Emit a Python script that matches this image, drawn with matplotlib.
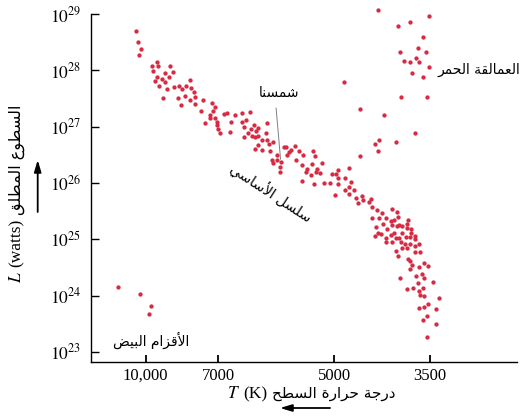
import numpy as np
import matplotlib
matplotlib.use('Agg')
import matplotlib.pyplot as plt
from matplotlib.ticker import NullLocator
from matplotlib.transforms import IdentityTransform

plt.rcParams['mathtext.fontset'] = 'stix'

# main sequence: surface temperature (K) and log10 of luminosity (W)
ms_temp = [10410, 10310, 10180, 10280, 9540, 9750, 9480, 9000, 9710, 9190,
           8870, 9520, 9050, 9340, 9630, 9200, 9460, 8850, 8620, 9120,
           8320, 8190, 8510, 8120, 8010, 9290, 8650, 8370, 7980, 7630,
           8540, 7950, 8150, 7280, 7120, 7710, 7340, 7220, 6910, 7540,
           7120, 7360, 7040, 7070,
           6850, 6720, 6780, 6590, 6460, 6590, 6530, 6800, 7030, 6970,
           6560, 6390, 6440, 6320, 6340, 6160, 6170, 6560, 6480, 6420,
           6370, 6310, 6250, 6160, 6130, 6050, 6360, 6310, 6250, 6100,
           5980, 5990, 6070, 6060, 5930,
           5870, 5830, 5670, 5750, 5770, 5610, 5370, 5810, 5540, 5330,
           5660, 5920, 5210, 5550, 5380, 5460, 5290, 5490, 5320, 5240,
           5400, 5930, 5040, 4970, 4940, 5560, 5340, 5180,
           4300, 4360, 4030, 4310, 4590, 4770,
           4930, 4830, 5070, 4930, 4730, 4770, 4830, 4690, 4980, 4760,
           4650, 4560, 4540, 4420, 4620, 4460, 4400, 4330, 4250, 4100,
           4010, 4400, 4300, 4180, 4000, 4110, 4060, 3850, 4240, 4100,
           4020, 3990, 3930, 3860, 4350, 4170, 3860, 3800, 3940, 3800,
           4310, 4260, 4110, 4060, 4360, 4180, 4030, 3980, 3880, 3810,
           3730, 3730, 4180, 4100, 3960, 3890, 3820, 3670, 3740, 3930,
           3860, 4030, 3730, 3660, 4000, 3840, 3820, 3780, 3810, 3600,
           3530, 3670, 3630, 3720, 3590, 3970, 3460, 3690, 3760, 3610,
           3860, 3670, 3660, 3590, 3360, 3530, 3590, 3680,
           3400, 3540, 3610, 3410, 3540]
ms_loglum = [28.69, 28.51, 28.38, 28.27, 28.15, 28.07, 28.08, 28.07, 27.99, 27.95,
             27.97, 27.89, 27.88, 27.85, 27.81, 27.79, 27.73, 27.71, 27.72, 27.67,
             27.72, 27.83, 27.66, 27.68, 27.62, 27.50, 27.50, 27.54, 27.53, 27.48,
             27.39, 27.40, 27.47, 27.42, 27.34, 27.27, 27.21, 27.27, 27.23, 27.07,
             27.16, 27.15, 27.09, 27.03,
             27.24, 27.20, 27.09, 27.25, 27.26, 27.08, 27.12, 26.91, 26.95, 26.88,
             26.99, 27.03, 26.95, 26.97, 26.93, 27.06, 26.89, 26.81, 26.89, 26.83,
             26.81, 26.83, 26.76, 26.76, 26.70, 26.72, 26.60, 26.68, 26.59, 26.57,
             26.50, 26.41, 26.41, 26.35, 26.28,
             26.64, 26.64, 26.66, 26.59, 26.55, 26.57, 26.57, 26.49, 26.49, 26.47,
             26.41, 26.37, 26.36, 26.31, 26.33, 26.25, 26.25, 26.19, 26.19, 26.18,
             26.14, 26.20, 26.15, 26.15, 26.23, 26.04, 25.98, 26.00,
             26.76, 26.69, 26.72, 26.57, 26.47, 26.27,
             26.08, 26.09, 26.00, 25.98, 26.01, 25.93, 25.88, 25.88, 25.79, 25.80,
             25.73, 25.77, 25.70, 25.72, 25.64, 25.66, 25.57, 25.52, 25.46, 25.54,
             25.49, 25.37, 25.37, 25.38, 25.40, 25.33, 25.34, 25.35, 25.27, 25.25,
             25.24, 25.26, 25.23, 25.27, 25.21, 25.19, 25.20, 25.19, 25.11, 25.11,
             25.11, 25.09, 25.08, 25.11, 25.05, 25.02, 25.03, 25.02, 25.04, 25.04,
             25.06, 25.00, 24.95, 24.95, 24.95, 24.92, 24.92, 24.91, 24.88, 24.85,
             24.84, 24.80, 24.77, 24.78, 24.71, 24.65, 24.62, 24.55, 24.48, 24.57,
             24.52, 24.50, 24.39, 24.35, 24.31, 24.31, 24.24, 24.23, 24.14, 24.14,
             24.11, 24.08, 24.01, 24.00, 23.96, 23.85, 23.80, 23.78,
             23.76, 23.64, 23.56, 23.49, 23.27]

# red giants
giant_temp = [4320, 3510, 4000, 3810, 3610, 3690, 3970, 3560, 3720, 3900,
              3810, 3680, 3520, 3780, 3610, 4840, 3950, 3550, 4600, 4220, 3730]
giant_loglum = [29.08, 28.97, 28.78, 28.85, 28.59, 28.40, 28.33, 28.32, 28.21, 28.16,
                28.14, 28.14, 28.06, 27.95, 27.88, 27.79, 27.53, 27.53, 27.31, 27.21, 26.89]

# white dwarfs
dwarf_temp = [11160, 10250, 9780, 9850]
dwarf_loglum = [24.15, 24.03, 23.82, 23.67]

sun_temp, sun_loglum = 5920, 26.37

x_ticks = [10000, 7000, 5000, 3500]
x_ticklabels = ['10,000', '7000', '5000', '3500']
y_exponents = [23, 24, 25, 26, 27, 28, 29]

RED = '#d62b43'
SERIF = 'Liberation Serif'
ARABIC = 'DejaVu Sans'

# --- minimal Arabic shaping (contextual forms + right-to-left order) ---
FORMS = {  # isolated, final, initial, medial
    'ا': ('\uFE8D', '\uFE8E', None, None),
    'أ': ('\uFE83', '\uFE84', None, None),
    'ب': ('\uFE8F', '\uFE90', '\uFE91', '\uFE92'),
    'ة': ('\uFE93', '\uFE94', None, None),
    'ج': ('\uFE9D', '\uFE9E', '\uFE9F', '\uFEA0'),
    'ح': ('\uFEA1', '\uFEA2', '\uFEA3', '\uFEA4'),
    'د': ('\uFEA9', '\uFEAA', None, None),
    'ر': ('\uFEAD', '\uFEAE', None, None),
    'ز': ('\uFEAF', '\uFEB0', None, None),
    'س': ('\uFEB1', '\uFEB2', '\uFEB3', '\uFEB4'),
    'ش': ('\uFEB5', '\uFEB6', '\uFEB7', '\uFEB8'),
    'ض': ('\uFEBD', '\uFEBE', '\uFEBF', '\uFEC0'),
    'ط': ('\uFEC1', '\uFEC2', '\uFEC3', '\uFEC4'),
    'ع': ('\uFEC9', '\uFECA', '\uFECB', '\uFECC'),
    'ق': ('\uFED5', '\uFED6', '\uFED7', '\uFED8'),
    'ل': ('\uFEDD', '\uFEDE', '\uFEDF', '\uFEE0'),
    'م': ('\uFEE1', '\uFEE2', '\uFEE3', '\uFEE4'),
    'ن': ('\uFEE5', '\uFEE6', '\uFEE7', '\uFEE8'),
    'و': ('\uFEED', '\uFEEE', None, None),
    'ي': ('\uFEF1', '\uFEF2', '\uFEF3', '\uFEF4'),
}
LAM_ALEF = {'ا': ('\uFEFB', '\uFEFC'), 'أ': ('\uFEF7', '\uFEF8')}


def shape(text):
    out = []
    i = 0
    prev_joins = False
    while i < len(text):
        c = text[i]
        if c not in FORMS:
            out.append(c)
            prev_joins = False
            i += 1
            continue
        if c == 'ل' and i + 1 < len(text) and text[i + 1] in LAM_ALEF:
            iso, fin = LAM_ALEF[text[i + 1]]
            out.append(fin if prev_joins else iso)
            prev_joins = False
            i += 2
            continue
        iso, fin, ini, med = FORMS[c]
        nxt = text[i + 1] if i + 1 < len(text) else ''
        joins_next = ini is not None and nxt in FORMS
        if prev_joins and joins_next:
            out.append(med)
        elif prev_joins:
            out.append(fin)
        elif joins_next:
            out.append(ini)
        else:
            out.append(iso)
        prev_joins = joins_next
        i += 1
    return ''.join(reversed(out))


# temperature ticks are unevenly spaced in the original, so use a piecewise scale
scale_temp = [2000, 3500, 5000, 7000, 10000, 14000]
scale_pos = [-526, -430, -334, -218.3, -145.7, -49.3]


def fwd(t):
    return np.interp(t, scale_temp, scale_pos)


def inv(u):
    return np.interp(u, scale_pos, scale_temp)


fig = plt.figure(figsize=(5.21, 4.19), dpi=100)
ax = fig.add_axes([91 / 521, 57 / 419, 426 / 521, 357 / 419])
ax.set_xscale('function', functions=(fwd, inv))
ax.set_yscale('log')
ax.set_xlim(12270, 2141)
ax.set_ylim(10 ** 22.82, 10 ** 29.16)

for temp, loglum in [(ms_temp, ms_loglum), (giant_temp, giant_loglum), (dwarf_temp, dwarf_loglum)]:
    ax.plot(temp, 10 ** np.array(loglum), 'o', color=RED, ms=3.1, mew=0, clip_on=False)

ax.spines['top'].set_visible(False)
ax.spines['right'].set_visible(False)
ax.spines['left'].set_bounds(10 ** 22.82, 10 ** 29)
for sp in ['left', 'bottom']:
    ax.spines[sp].set_linewidth(1.0)

ax.set_xticks(x_ticks, labels=x_ticklabels)
ax.set_yticks([10.0 ** e for e in y_exponents], labels=[f'$10^{{{e}}}$' for e in y_exponents])
ax.xaxis.set_minor_locator(NullLocator())
ax.yaxis.set_minor_locator(NullLocator())
ax.tick_params(axis='x', direction='in', length=5, width=1.3, pad=4, labelsize=12)
ax.tick_params(axis='y', direction='in', length=5.8, width=1.0, pad=7, labelsize=12.5)
for lab in ax.get_xticklabels():
    lab.set_fontfamily(SERIF)

# sun
ax.annotate(shape('شمسنا'), xy=(sun_temp, 10 ** sun_loglum), xytext=(-1, 50),
            textcoords='offset points', ha='center', va='center',
            fontfamily=ARABIC, fontsize=10,
            arrowprops=dict(arrowstyle='-', color='#808080', lw=0.7,
                            shrinkA=4, shrinkB=2, relpos=(0.4, 0.0)))

px = IdentityTransform()
fig.text(271, 227, shape('سلسل الأساسي'), transform=px, rotation=-33,
         rotation_mode='anchor', ha='center', va='center', fontfamily=ARABIC, fontsize=10)
fig.text(479, 349, shape('العمالقة الحمر'), transform=px, ha='center', va='center',
         fontfamily=ARABIC, fontsize=10)
fig.text(151, 79, shape('الأقزام البيض'), transform=px, ha='center', va='center',
         fontfamily=ARABIC, fontsize=10)


def place_label(parts, cx, cy, rotation=0, gap=4):
    renderer = fig.canvas.get_renderer()
    items = []
    for s, kw in parts:
        t = fig.text(0, 0, s, transform=px, ha='left', va='baseline',
                     rotation_mode='anchor', **kw)
        items.append((t, t.get_window_extent(renderer).width))
    total = sum(w for _, w in items) + gap * (len(items) - 1)
    c, s_ = np.cos(np.radians(rotation)), np.sin(np.radians(rotation))
    d = -total / 2
    for t, w in items:
        t.set_position((cx + d * c, cy + d * s_))
        t.set_rotation(rotation)
        d += w + gap


place_label([('$L$', dict(fontsize=12.5)),
             ('(watts)', dict(fontfamily=SERIF, fontsize=12.5)),
             (shape('السطوع المطلق'), dict(fontfamily=ARABIC, fontsize=11.5))],
            21, 225.5, rotation=90)
place_label([('$T$', dict(fontsize=12.5)),
             ('(K)', dict(fontfamily=SERIF, fontsize=12.5)),
             (shape('درجة حرارة السطح'), dict(fontfamily=ARABIC, fontsize=11))],
            311, 21)

arrow = dict(arrowstyle='-|>,head_length=0.5,head_width=0.15', mutation_scale=14,
             lw=1.3, color='black', shrinkA=0, shrinkB=0)
ax.annotate('', xy=(37.7, 259), xytext=(37.7, 207), xycoords='figure pixels',
            textcoords='figure pixels', arrowprops=arrow)
ax.annotate('', xy=(280, 11), xytext=(330, 11), xycoords='figure pixels',
            textcoords='figure pixels', arrowprops=arrow)

fig.savefig('out.png', dpi=100)
